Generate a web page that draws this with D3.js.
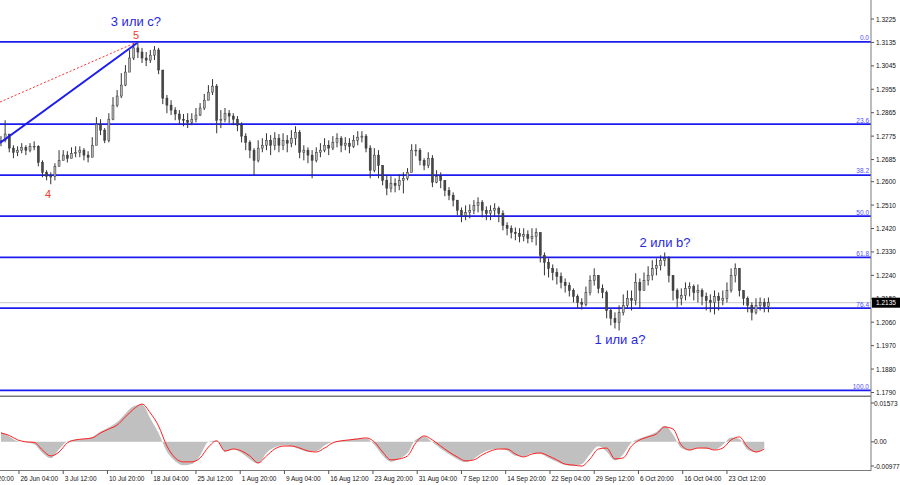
<!DOCTYPE html>
<html><head><meta charset="utf-8">
<script src="https://cdn.jsdelivr.net/npm/d3@7"></script>
<style>
body{margin:0;background:#fff;}
svg{display:block;}
text{font-family:"Liberation Sans",Arial,sans-serif;}
</style>
</head><body>
<svg id="c" width="900" height="485"></svg>
<script>
// ---- data: half-day candles ----
const firstOpen = 1.2755;
const closes = [
1.2759,1.2783,1.2729,1.2713,1.2721,1.2732,1.2721,1.2736,1.2736,1.2674,
1.2636,1.2621,1.2621,1.2659,1.2682,1.2702,1.2690,1.2709,1.2713,1.2721,
1.2702,1.2694,1.2740,1.2821,1.2798,1.2759,1.2840,1.2894,1.2929,1.2971,
1.3021,1.3075,1.3114,1.3098,1.3075,1.3067,1.3086,1.3106,1.3029,1.2921,
1.2894,1.2875,1.2860,1.2840,1.2836,1.2828,1.2840,1.2856,1.2883,1.2913,
1.2944,1.2967,1.2836,1.2840,1.2863,1.2852,1.2840,1.2817,1.2775,1.2751,
1.2721,1.2682,1.2729,1.2740,1.2759,1.2740,1.2767,1.2740,1.2759,1.2748,
1.2767,1.2790,1.2713,1.2721,1.2702,1.2682,1.2713,1.2721,1.2740,1.2729,
1.2751,1.2767,1.2740,1.2748,1.2736,1.2759,1.2771,1.2775,1.2729,1.2644,
1.2702,1.2663,1.2605,1.2575,1.2594,1.2586,1.2605,1.2613,1.2636,1.2721,
1.2721,1.2682,1.2663,1.2690,1.2598,1.2621,1.2605,1.2567,1.2548,1.2529,
1.2490,1.2471,1.2482,1.2490,1.2509,1.2521,1.2490,1.2478,1.2490,1.2498,
1.2478,1.2432,1.2421,1.2405,1.2401,1.2390,1.2397,1.2382,1.2390,1.2405,
1.2317,1.2290,1.2267,1.2251,1.2236,1.2213,1.2201,1.2182,1.2159,1.2136,
1.2129,1.2174,1.2221,1.2240,1.2190,1.2174,1.2105,1.2075,1.2059,1.2098,
1.2125,1.2152,1.2144,1.2213,1.2182,1.2221,1.2240,1.2267,1.2278,1.2298,
1.2305,1.2240,1.2182,1.2152,1.2163,1.2190,1.2197,1.2174,1.2182,1.2159,
1.2144,1.2136,1.2159,1.2144,1.2152,1.2182,1.2240,1.2267,1.2182,1.2152,
1.2125,1.2098,1.2125,1.2136,1.2121,1.2135];
const highs = [
1.2775,1.2836,1.2779,1.2740,1.2736,1.2748,1.2740,1.2748,1.2755,1.2740,
1.2682,1.2644,1.2636,1.2671,1.2721,1.2721,1.2717,1.2732,1.2736,1.2736,
1.2729,1.2717,1.2771,1.2848,1.2840,1.2806,1.2863,1.2925,1.2952,1.3017,
1.3048,1.3106,1.3133,1.3137,1.3114,1.3098,1.3106,1.3121,1.3114,1.3029,
1.2933,1.2913,1.2886,1.2875,1.2860,1.2863,1.2863,1.2883,1.2902,1.2937,
1.2971,1.2994,1.2975,1.2875,1.2883,1.2875,1.2863,1.2852,1.2828,1.2786,
1.2759,1.2729,1.2759,1.2767,1.2786,1.2779,1.2790,1.2783,1.2786,1.2779,
1.2798,1.2813,1.2798,1.2740,1.2732,1.2721,1.2732,1.2748,1.2767,1.2759,
1.2775,1.2786,1.2775,1.2771,1.2767,1.2779,1.2794,1.2794,1.2783,1.2740,
1.2729,1.2721,1.2663,1.2625,1.2621,1.2613,1.2628,1.2636,1.2652,1.2744,
1.2744,1.2729,1.2690,1.2713,1.2702,1.2644,1.2636,1.2598,1.2579,1.2559,
1.2517,1.2501,1.2509,1.2513,1.2529,1.2540,1.2529,1.2505,1.2509,1.2517,
1.2505,1.2490,1.2444,1.2432,1.2424,1.2421,1.2421,1.2413,1.2421,1.2421,
1.2394,1.2328,1.2305,1.2282,1.2267,1.2251,1.2228,1.2213,1.2190,1.2167,
1.2152,1.2197,1.2240,1.2267,1.2236,1.2205,1.2182,1.2113,1.2098,1.2125,
1.2167,1.2182,1.2182,1.2248,1.2228,1.2251,1.2275,1.2298,1.2305,1.2317,
1.2328,1.2313,1.2240,1.2190,1.2190,1.2213,1.2213,1.2205,1.2205,1.2190,
1.2174,1.2167,1.2182,1.2174,1.2182,1.2213,1.2267,1.2286,1.2259,1.2182,
1.2159,1.2136,1.2152,1.2155,1.2152,1.2155];
const lows = [
1.2736,1.2751,1.2713,1.2690,1.2698,1.2709,1.2702,1.2713,1.2721,1.2659,
1.2617,1.2605,1.2590,1.2605,1.2659,1.2682,1.2674,1.2690,1.2694,1.2694,
1.2682,1.2674,1.2721,1.2759,1.2779,1.2748,1.2751,1.2836,1.2886,1.2921,
1.2967,1.3021,1.3067,1.3075,1.3056,1.3044,1.3056,1.3067,1.3013,1.2898,
1.2863,1.2856,1.2836,1.2821,1.2813,1.2806,1.2817,1.2828,1.2852,1.2875,
1.2913,1.2933,1.2786,1.2806,1.2828,1.2825,1.2817,1.2794,1.2751,1.2721,
1.2690,1.2625,1.2674,1.2713,1.2721,1.2702,1.2721,1.2713,1.2721,1.2713,
1.2732,1.2740,1.2690,1.2682,1.2671,1.2613,1.2674,1.2694,1.2713,1.2702,
1.2721,1.2732,1.2713,1.2721,1.2709,1.2729,1.2740,1.2751,1.2713,1.2613,
1.2636,1.2613,1.2586,1.2548,1.2559,1.2559,1.2567,1.2555,1.2605,1.2636,
1.2698,1.2663,1.2644,1.2652,1.2579,1.2594,1.2575,1.2544,1.2529,1.2505,
1.2471,1.2444,1.2452,1.2459,1.2475,1.2482,1.2463,1.2452,1.2452,1.2467,
1.2444,1.2413,1.2394,1.2382,1.2375,1.2367,1.2371,1.2363,1.2367,1.2355,
1.2290,1.2240,1.2232,1.2221,1.2205,1.2190,1.2174,1.2159,1.2136,1.2113,
1.2109,1.2121,1.2163,1.2201,1.2171,1.2152,1.2075,1.2048,1.2036,1.2028,
1.2086,1.2113,1.2105,1.2125,1.2113,1.2182,1.2201,1.2221,1.2240,1.2259,
1.2275,1.2213,1.2144,1.2117,1.2125,1.2144,1.2159,1.2144,1.2136,1.2125,
1.2105,1.2098,1.2090,1.2105,1.2125,1.2136,1.2174,1.2213,1.2159,1.2125,
1.2098,1.2067,1.2090,1.2105,1.2098,1.2098];

// ---- MACD (daily samples) ----
const macdMain = [
0.0040,0.0022,0.0002,-0.0002,-0.0010,-0.0045,-0.0066,-0.0030,0.0002,0.0010,
0.0012,0.0020,0.0042,0.0058,0.0080,0.0115,0.0145,0.0150,0.0095,0.0035,
-0.0040,-0.0078,-0.0095,-0.0090,-0.0055,0.0000,0.0006,-0.0040,-0.0030,-0.0045,
-0.0070,-0.0088,-0.0045,-0.0022,-0.0014,-0.0018,-0.0030,-0.0040,-0.0038,-0.0015,
0.0000,0.0006,0.0010,0.0014,0.0014,-0.0012,-0.0055,-0.0080,-0.0068,-0.0045,
0.0010,0.0022,-0.0002,-0.0028,-0.0050,-0.0070,-0.0082,-0.0068,-0.0045,-0.0032,
-0.0028,-0.0035,-0.0056,-0.0060,-0.0045,-0.0048,-0.0065,-0.0080,-0.0094,-0.0098,
-0.0090,-0.0050,-0.0018,-0.0040,-0.0075,-0.0050,-0.0002,0.0014,0.0026,0.0040,
0.0065,0.0030,-0.0025,-0.0035,-0.0024,-0.0028,-0.0032,-0.0012,0.0018,0.0012,
-0.0032,-0.0042,-0.0025];
const macdSignal = [
0.0036,0.0026,0.0008,0.0000,-0.0002,-0.0033,-0.0057,-0.0041,-0.0004,0.0008,
0.0012,0.0016,0.0036,0.0052,0.0068,0.0101,0.0133,0.0153,0.0117,0.0064,
-0.0017,-0.0065,-0.0081,-0.0081,-0.0065,-0.0021,0.0004,-0.0037,-0.0029,-0.0037,
-0.0057,-0.0085,-0.0057,-0.0029,-0.0017,-0.0017,-0.0025,-0.0037,-0.0041,-0.0025,
-0.0004,0.0004,0.0008,0.0012,0.0016,0.0000,-0.0041,-0.0073,-0.0069,-0.0057,
-0.0004,0.0024,0.0008,-0.0017,-0.0041,-0.0061,-0.0077,-0.0073,-0.0053,-0.0037,
-0.0029,-0.0029,-0.0049,-0.0061,-0.0049,-0.0045,-0.0057,-0.0073,-0.0090,-0.0094,
-0.0098,-0.0069,-0.0029,-0.0025,-0.0069,-0.0065,-0.0017,0.0008,0.0020,0.0032,
0.0060,0.0052,-0.0013,-0.0033,-0.0025,-0.0025,-0.0033,-0.0025,0.0008,0.0020,
-0.0021,-0.0041,-0.0029];

// ---- axes / annotations ----
const priceTicks = [1.3225,1.3135,1.3045,1.2955,1.2865,1.2775,1.2685,1.2600,1.2510,1.2420,1.2330,1.2240,1.2150,1.2060,1.1970,1.1880,1.1790];
const macdTicks = [0.01573,0,-0.00977];
const macdTickLabels = ["0.01573","0.00","-0.00977"];
const timeLabels = ["19 Jun 20:00","26 Jun 04:00","3 Jul 12:00","10 Jul 20:00","18 Jul 04:00","25 Jul 12:00","1 Aug 20:00","9 Aug 04:00","16 Aug 12:00","23 Aug 20:00","31 Aug 04:00","7 Sep 12:00","14 Sep 20:00","22 Sep 04:00","29 Sep 12:00","6 Oct 20:00","16 Oct 04:00","23 Oct 12:00"];
const timeBars = [-18,14,46,78,110,142,174,206,238,270,302,334,366,398,430,462,494,526];
const fibLevels = [0,23.6,38.2,50,61.8,76.4,100];
const fibLabels = ["0.0","23.6","38.2","50.0","61.8","76.4","100.0"];
const fibHigh = 1.3137, fibLow = 1.1798;
const lastPrice = 1.2135;
const waveText = ["3 или c?","5","4","2 или b?","1 или a?"];
const waveBar = [98.6,98.6,35,481.2,448.6];
const wavePrice = [1.3214,1.3164,1.2552,1.2365,1.1992];
const waveKind = ["blue","red","red","blue","blue"];
const trendSolid = [[0.3,1.2749],[99.4,1.3133]];
const trendDotted = [[0.3,1.2906],[97.9,1.3133]];

// ---- build ----
const svg = d3.select("#c");
const axisX = 871;
const x = d3.scaleLinear().domain([0,556]).range([-0.4,-0.4+556*1.3828]);
const y = d3.scaleLinear().domain([1.1790,1.3225]).range([392.5,19]);
const ym = d3.scaleLinear().domain([-0.00977,0.01573]).range([466,403]);
const candleBar = i => 3*i+1;
const macdBar = i => 6*i+1;

const main = svg.append("g");
svg.append("defs").append("clipPath").attr("id","mc").append("rect").attr("x",0).attr("y",0).attr("width",axisX).attr("height",395);
const plot = main.append("g").attr("clip-path","url(#mc)");

// bid line
plot.append("line").attr("x1",0).attr("x2",axisX).attr("y1",y(lastPrice)).attr("y2",y(lastPrice)).attr("stroke","#c8c8c8").attr("stroke-width",1);

// fib lines
const fibPrice = l => fibHigh - (fibHigh-fibLow)*l/100;
fibLevels.forEach((l,i)=>{
  const yy = y(fibPrice(l));
  plot.append("line").attr("x1",0).attr("x2",axisX).attr("y1",yy).attr("y2",yy).attr("stroke","#1c1cf0").attr("stroke-width",1.8);
  main.append("text").attr("x",axisX-2).attr("y",yy-1.6).attr("text-anchor","end").attr("font-size",6.5).attr("fill","#5050ff").text(fibLabels[i]);
});

// candles
const candles = closes.map((c,i)=>({o: i===0?firstOpen:closes[i-1], c, h: highs[i], l: lows[i], b: candleBar(i)}));
const cg = plot.append("g");
cg.selectAll("line").data(candles).join("line")
  .attr("x1",d=>x(d.b)).attr("x2",d=>x(d.b))
  .attr("y1",d=>y(Math.max(d.h,d.o,d.c))).attr("y2",d=>y(Math.min(d.l,d.o,d.c)))
  .attr("stroke","#333").attr("stroke-width",1);
cg.selectAll("rect").data(candles).join("rect")
  .attr("x",d=>x(d.b)-1).attr("width",2)
  .attr("y",d=>y(Math.max(d.o,d.c))).attr("height",d=>Math.max(0.8,Math.abs(y(d.o)-y(d.c))))
  .attr("fill",d=>d.c>=d.o?"#b4b4b4":"#474747").attr("stroke","#333").attr("stroke-width",0.5);

// trend lines
plot.append("line").attr("x1",x(trendDotted[0][0])).attr("y1",y(trendDotted[0][1])).attr("x2",x(trendDotted[1][0])).attr("y2",y(trendDotted[1][1]))
  .attr("stroke","#ff3030").attr("stroke-width",1).attr("stroke-dasharray","2,2");
plot.append("line").attr("x1",x(trendSolid[0][0])).attr("y1",y(trendSolid[0][1])).attr("x2",x(trendSolid[1][0])).attr("y2",y(trendSolid[1][1]))
  .attr("stroke","#1c1cf0").attr("stroke-width",2);

// wave labels
waveText.forEach((t,i)=>{
  main.append("text").attr("x",x(waveBar[i])).attr("y",y(wavePrice[i])).attr("text-anchor","middle").attr("dominant-baseline","central")
    .attr("font-size",waveKind[i]==="blue"?13:11).attr("fill",waveKind[i]==="blue"?"#2828e0":"#f03c28").text(t);
});

// separators
svg.append("line").attr("x1",0).attr("x2",axisX).attr("y1",396.3).attr("y2",396.3).attr("stroke","#7a7a7a").attr("stroke-width",1.6);
svg.append("line").attr("x1",0).attr("x2",axisX).attr("y1",470.5).attr("y2",470.5).attr("stroke","#7a7a7a").attr("stroke-width",1);
svg.append("line").attr("x1",axisX).attr("x2",axisX).attr("y1",0).attr("y2",471).attr("stroke","#7a7a7a").attr("stroke-width",1);

// MACD
const mg = svg.append("g");
const md = macdMain.map((v,i)=>({b: macdBar(i), v, s: macdSignal[i]}));
mg.append("path").datum(md).attr("d",d3.area().curve(d3.curveMonotoneX).x(d=>x(d.b)).y0(ym(0)).y1(d=>ym(d.v))).attr("fill","#c0c0c0");
mg.append("path").datum(md).attr("d",d3.line().curve(d3.curveMonotoneX).x(d=>x(d.b)).y(d=>ym(d.s))).attr("fill","none").attr("stroke","#ff2020").attr("stroke-width",1);

// price axis
const pa = svg.append("g");
priceTicks.forEach(p=>{
  const yy = y(p);
  pa.append("line").attr("x1",axisX).attr("x2",axisX+3).attr("y1",yy).attr("y2",yy).attr("stroke","#555");
  pa.append("text").attr("x",axisX+5).attr("y",yy).attr("dominant-baseline","central").attr("font-size",6.5).attr("fill","#111").text(p.toFixed(4));
});
macdTicks.forEach((v,i)=>{
  const yy = ym(v);
  pa.append("line").attr("x1",axisX).attr("x2",axisX+3).attr("y1",yy).attr("y2",yy).attr("stroke","#555");
  pa.append("text").attr("x",axisX+3).attr("y",yy).attr("dominant-baseline","central").attr("font-size",6.5).attr("fill","#111").text(macdTickLabels[i]);
});
// last price box
const ly = y(lastPrice);
pa.append("rect").attr("x",axisX+1).attr("y",ly-5).attr("width",29).attr("height",10).attr("fill","#000");
pa.append("text").attr("x",axisX+5).attr("y",ly).attr("dominant-baseline","central").attr("font-size",6.5).attr("fill","#fff").text(lastPrice.toFixed(4));

// time axis
const ta = svg.append("g");
timeBars.forEach((b,i)=>{
  const xx = x(b);
  ta.append("line").attr("x1",xx).attr("x2",xx).attr("y1",470.5).attr("y2",474).attr("stroke","#555");
  ta.append("text").attr("x",xx+1.5).attr("y",480.5).attr("font-size",6.5).attr("fill","#111").text(timeLabels[i]);
});
</script>
</body></html>
